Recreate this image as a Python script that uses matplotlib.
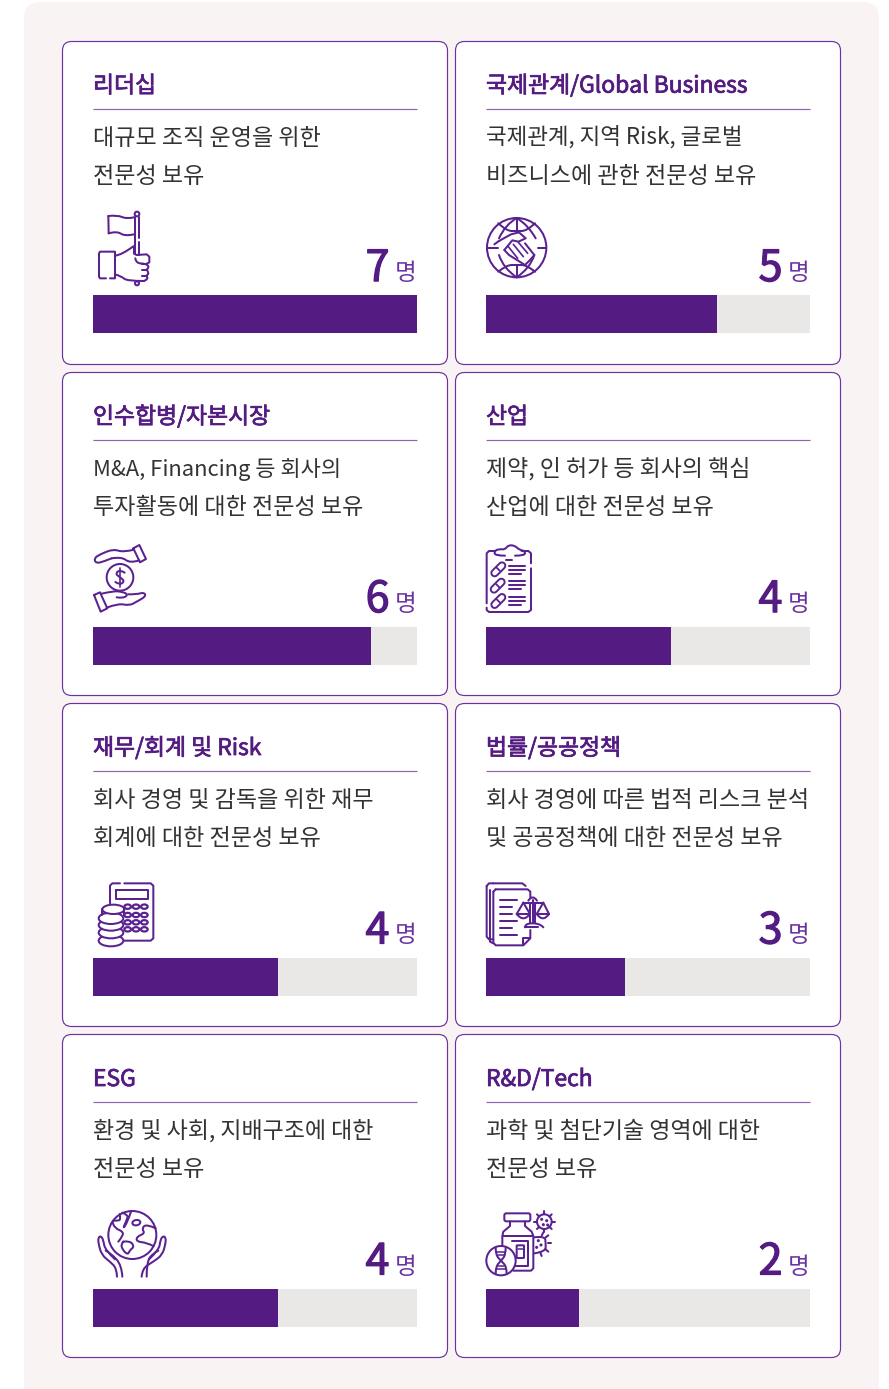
import matplotlib
matplotlib.use('Agg')
import matplotlib.pyplot as plt
import matplotlib.patheffects as pe
from matplotlib.patches import FancyBboxPatch, PathPatch, Circle, Ellipse
from matplotlib.path import Path

plt.rcParams['font.family'] = ['Noto Sans CJK KR', 'DejaVu Sans']

titles = ['리더십', '국제관계/Global Business', '인수합병/자본시장', '산업',
          '재무/회계 및 Risk', '법률/공공정책', 'ESG', 'R&D/Tech']
line1 = ['대규모 조직 운영을 위한', '국제관계, 지역 Risk, 글로벌', 'M&A, Financing 등 회사의',
         '제약, 인 허가 등 회사의 핵심', '회사 경영 및 감독을 위한 재무', '회사 경영에 따른 법적 리스크 분석',
         '환경 및 사회, 지배구조에 대한', '과학 및 첨단기술 영역에 대한']
line2 = ['전문성 보유', '비즈니스에 관한 전문성 보유', '투자활동에 대한 전문성 보유',
         '산업에 대한 전문성 보유', '회계에 대한 전문성 보유', '및 공공정책에 대한 전문성 보유',
         '전문성 보유', '전문성 보유']
counts = [7, 5, 6, 4, 4, 3, 4, 2]
max_count = 7

W, H = 889, 1389
PURPLE = '#541c82'
LINE = '#5a2190'
GREY = '#e9e8e7'
BG = '#f9f3f3'

fig = plt.figure(figsize=(W / 100, H / 100), dpi=100, facecolor='white')
ax = fig.add_axes([0, 0, 1, 1])
ax.set_xlim(0, W)
ax.set_ylim(H, 0)
ax.axis('off')

ax.add_patch(FancyBboxPatch((24, 2), 855, 1400, boxstyle='round,pad=0,rounding_size=16',
                            fc=BG, ec='none'))


# icon helpers, coordinates are in 3x crop units
class Pen:
    def __init__(self, x0, y0):
        self.x0, self.y0 = x0, y0

    def p(self, pt):
        return (self.x0 + pt[0] / 3, self.y0 + pt[1] / 3)

    def line(self, pts, closed=False, fc='none', lw=1.45, z=5, ec=LINE):
        pts = [self.p(q) for q in pts]
        if closed:
            pts = pts + [pts[0]]
        ax.add_patch(PathPatch(Path(pts), fc=fc, ec=ec, lw=lw, zorder=z,
                               capstyle='round', joinstyle='round'))

    def curve(self, pts, fc='none', lw=1.45, z=5):
        pts = [self.p(q) for q in pts]
        verts = [pts[0]]
        codes = [Path.MOVETO]
        for i in range(1, len(pts) - 1):
            mid = ((pts[i][0] + pts[i + 1][0]) / 2, (pts[i][1] + pts[i + 1][1]) / 2)
            if i == len(pts) - 2:
                mid = pts[-1]
            verts += [pts[i], mid]
            codes += [Path.CURVE3, Path.CURVE3]
        if len(pts) == 2:
            verts.append(pts[1])
            codes.append(Path.LINETO)
        ax.add_patch(PathPatch(Path(verts, codes), fc=fc, ec=LINE, lw=lw, zorder=z,
                               capstyle='round', joinstyle='round'))

    def circle(self, c, r, fc='none', lw=1.45, z=5):
        ax.add_patch(Circle(self.p(c), r / 3, fc=fc, ec=LINE, lw=lw, zorder=z))

    def ell(self, c, w, h, angle=0, fc='none', lw=1.45, z=5):
        ax.add_patch(Ellipse(self.p(c), w / 3, h / 3, angle=angle, fc=fc, ec=LINE, lw=lw, zorder=z))

    def rbox(self, x, y, w, h, r=6, fc='none', lw=1.45, z=5):
        a = self.p((x, y))
        ax.add_patch(FancyBboxPatch(a, w / 3, h / 3, boxstyle='round,pad=0,rounding_size=%f' % (r / 3),
                                    fc=fc, ec=LINE, lw=lw, zorder=z))


def icon_flag():
    g = Pen(80, 205)
    g.circle((171, 27), 7)
    g.line([(166, 35), (166, 148)])
    g.line([(177, 35), (177, 100)])
    g.line([(177, 112), (177, 150)])
    g.curve([(162, 37), (140, 42), (112, 30), (85, 33)])
    g.line([(85, 33), (86, 85)])
    g.curve([(86, 85), (110, 78), (135, 94), (162, 88)])
    g.line([(78, 220), (60, 220), (57, 215), (57, 145), (60, 140), (105, 140), (105, 220), (90, 220)])
    g.curve([(105, 152), (125, 150), (160, 124)])
    g.line([(162, 124), (162, 146), (170, 150), (200, 148), (208, 155), (208, 172), (200, 176)])
    g.curve([(166, 160), (168, 175), (200, 176), (208, 188), (200, 194)])
    g.curve([(200, 194), (208, 205), (198, 212), (205, 222), (192, 228)])
    g.curve([(105, 208), (125, 214), (140, 228), (192, 228)])
    g.line([(185, 176), (200, 176)])
    g.line([(185, 194), (200, 194)])
    g.line([(185, 212), (198, 212)])
    g.circle((171, 235), 6)


def icon_money():
    g = Pen(80, 535)
    g.circle((120, 127), 40)
    g.curve([(134, 113), (120, 104), (106, 116), (120, 127), (134, 138), (120, 150), (106, 141)])
    g.line([(120, 98), (120, 156)], lw=1.2)
    g.line([(160, 40), (178, 30), (198, 72), (180, 82)], closed=True)
    g.curve([(162, 44), (130, 52), (100, 42), (60, 58), (42, 70), (48, 85), (70, 80), (95, 70)])
    g.curve([(95, 70), (125, 65), (150, 85), (178, 76)])
    g.line([(42, 180), (60, 172), (82, 220), (62, 230)], closed=True)
    g.curve([(65, 176), (100, 168), (125, 170), (145, 178), (130, 190), (110, 187)])
    g.curve([(145, 178), (170, 178), (192, 172), (198, 184), (170, 200), (148, 212), (115, 205), (80, 218)])


def icon_globe():
    g = Pen(475, 205)
    g.circle((125, 128), 89)
    g.line([(125, 39), (125, 78)])
    g.line([(125, 184), (125, 217)])
    g.line([(36, 128), (68, 128)])
    g.line([(188, 128), (214, 128)])
    g.curve([(70, 55), (95, 78), (125, 78), (155, 78), (180, 55)])
    g.curve([(70, 200), (95, 180), (125, 180), (155, 180), (180, 200)])
    g.curve([(125, 39), (90, 60), (72, 100)])
    g.curve([(125, 39), (160, 60), (182, 100)])
    g.curve([(72, 150), (85, 190), (125, 217)])
    g.curve([(178, 150), (165, 190), (125, 217)])
    # hands
    g.line([(72, 108), (108, 88), (132, 82), (152, 100), (130, 110), (112, 106), (88, 135)])
    g.line([(88, 135), (102, 150), (150, 180), (165, 165), (178, 150), (150, 115)])
    g.line([(100, 125), (128, 160)], lw=1.2)
    g.line([(115, 118), (145, 155)], lw=1.2)
    g.line([(130, 112), (158, 145)], lw=1.2)
    g.line([(58, 118), (72, 108)])


def icon_clip():
    g = Pen(475, 535)
    g.line([(60, 48), (42, 48), (35, 55), (35, 205)])
    g.line([(35, 218), (35, 225), (42, 231), (160, 231), (168, 225), (168, 100)])
    g.line([(168, 85), (168, 55), (160, 48), (140, 48)])
    g.curve([(90, 62), (60, 62), (58, 48), (72, 42), (90, 44), (100, 30), (120, 32), (132, 44), (150, 48), (150, 62), (120, 62)])
    g.line([(92, 75), (112, 75)])
    for cy, cx in [(103, 70), (152, 68), (198, 70)]:
        # pill: thick purple stroke with a white core
        g.line([(cx - 11, cy + 11), (cx + 11, cy - 11)], lw=6.2)
        g.line([(cx - 11, cy + 11), (cx + 11, cy - 11)], lw=3.4, ec='white', z=6)
        g.line([(cx - 5, cy - 5), (cx + 5, cy + 5)], lw=1.3, z=7)
    for y0 in [93, 139, 185]:
        g.line([(103, y0), (150, y0)])
        g.line([(103, y0 + 12), (150, y0 + 12)])
        g.line([(103, y0 + 24), (138, y0 + 24)])


def icon_calc():
    g = Pen(85, 870)
    g.line([(105, 40), (82, 40), (75, 47), (75, 100)])
    g.line([(118, 40), (197, 40), (205, 47), (205, 205), (197, 212), (118, 212)])
    g.line([(92, 60), (190, 60), (190, 88), (92, 88)], closed=True)
    for y0 in [110, 135, 157, 178]:
        for x0 in [128, 153, 178]:
            g.ell((x0, y0), 20, 13, lw=1.6)
    for cy in [212, 188, 165, 145]:
        g.ell((78, cy), 74, 34, fc='white', z=6)
    g.ell((85, 118), 66, 28, fc='white', z=7)
    g.line([(52, 118), (52, 134)], z=7)
    g.line([(118, 118), (118, 134)], z=7)


def icon_docs():
    g = Pen(475, 870)
    g.line([(55, 40), (142, 40), (152, 48)])
    g.line([(35, 48), (42, 40), (55, 40)])
    g.line([(35, 48), (35, 200), (42, 208), (55, 208)])
    g.line([(45, 60), (45, 215), (55, 220)])
    g.line([(62, 58), (158, 58), (166, 65), (166, 82)])
    g.line([(55, 65), (62, 58)])
    g.line([(55, 65), (55, 218), (62, 226), (145, 226), (166, 205), (166, 180)])
    g.line([(145, 226), (145, 205), (166, 205)])
    for y0, x1 in [(90, 126), (110, 110), (131, 110), (152, 126), (173, 110), (194, 126)]:
        g.line([(75, y0), (x1, y0)])
    # scales
    g.line([(173, 90), (173, 158)])
    g.line([(165, 158), (165, 100)])
    g.line([(181, 158), (181, 100)])
    g.curve([(160, 92), (173, 72), (186, 92)])
    g.line([(145, 98), (205, 98)])
    g.line([(145, 98), (125, 132)])
    g.line([(145, 98), (165, 132)])
    g.curve([(125, 132), (145, 158), (165, 132)])
    g.line([(125, 132), (165, 132)])
    g.line([(205, 98), (185, 132)])
    g.line([(205, 98), (222, 132)])
    g.curve([(185, 132), (204, 158), (222, 132)])
    g.line([(185, 132), (222, 132)])
    g.curve([(150, 172), (150, 160), (195, 160), (205, 172)])
    g.line([(150, 172), (190, 172)])


def icon_earth():
    g = Pen(85, 1200)
    g.circle((142, 105), 72)
    g.curve([(104, 42), (108, 60), (95, 62), (80, 62), (90, 85), (115, 95), (112, 110), (100, 125)])
    g.curve([(112, 38), (130, 45), (125, 60), (112, 90), (128, 65), (138, 35)])
    g.ell((154, 68), 24, 16, angle=-10)
    g.curve([(212, 85), (185, 72), (170, 85), (180, 100), (155, 110), (155, 125), (185, 128), (205, 138)])
    g.curve([(115, 125), (135, 122), (148, 140), (135, 150), (128, 165), (112, 148), (108, 132), (115, 125)])
    # left hand
    g.curve([(96, 230), (95, 205), (75, 185), (50, 165), (40, 130), (40, 112), (48, 108), (55, 120), (60, 150), (90, 178)])
    g.curve([(62, 152), (78, 160), (110, 195), (112, 230)])
    # right hand
    g.curve([(170, 230), (172, 205), (205, 185), (232, 165), (242, 130), (242, 112), (234, 108), (226, 120), (222, 150), (192, 178)])
    g.curve([(220, 152), (204, 160), (185, 185), (185, 230)])


def icon_vial():
    g = Pen(475, 1200)
    g.rbox(88, 40, 78, 24, r=6)
    g.line([(105, 64), (105, 78), (85, 95), (82, 108), (82, 138)])
    g.line([(150, 64), (150, 78), (170, 95), (175, 108), (175, 205), (168, 212), (115, 212)])
    g.line([(85, 108), (175, 108)])
    g.line([(110, 122), (158, 122), (158, 198), (118, 198)])
    g.rbox(125, 136, 22, 38, r=2)
    g.line([(128, 148), (144, 148)], lw=1.1)
    g.circle((78, 182), 44, fc='white', z=6)
    g.curve([(62, 142), (62, 165), (78, 182), (95, 200), (95, 222)], z=7)
    g.curve([(92, 142), (92, 165), (78, 182), (62, 200), (62, 222)], z=7)
    for y0, a, b in [(155, 64, 90), (165, 68, 88), (198, 68, 88), (208, 64, 92)]:
        g.line([(a, y0), (b, y0)], lw=1.1, z=7)
    g.circle((208, 65), 22)
    for q in [(208, 33, 208, 43), (208, 87, 208, 97), (176, 65, 186, 65), (230, 65, 240, 65),
              (186, 43, 193, 50), (230, 43, 223, 50), (186, 87, 193, 80), (230, 87, 223, 80)]:
        g.line([(q[0], q[1]), (q[2], q[3])])
    for c in [(200, 58), (215, 62), (205, 74), (218, 75)]:
        g.circle(c, 2.5, lw=1)
    g.curve([(178, 112), (210, 108), (212, 130), (212, 155), (178, 160)])
    for q in [(205, 97, 200, 107), (218, 130, 228, 130), (212, 112, 220, 106), (212, 148, 220, 155), (196, 158, 200, 168)]:
        g.line([(q[0], q[1]), (q[2], q[3])])
    for c in [(190, 122), (198, 135), (185, 142)]:
        g.circle(c, 2.5, lw=1)


icons = [icon_flag, icon_globe, icon_money, icon_clip, icon_calc, icon_docs, icon_earth, icon_vial]

card_x = [62, 455]
card_y = [41, 372, 703, 1034]
text_y = [41.6, 372.6, 704, 1035]
bar_y = [295, 627, 958, 1289]
line1_size = [16.6, 16.2, 15.85, 16.5, 16.6, 16.6, 16.55, 16.55]
# no medium weight installed, so thicken regular a little
medium = [pe.withStroke(linewidth=0.55, foreground=PURPLE)]
medium_num = [pe.withStroke(linewidth=0.9, foreground=PURPLE)]

for i in range(len(titles)):
    x = card_x[i % 2]
    y = card_y[i // 2]
    ty = text_y[i // 2]
    ax.add_patch(FancyBboxPatch((x + 0.5, y + 0.5), 385, 323, boxstyle='round,pad=0,rounding_size=9',
                                fc='white', ec='#6b33a1', lw=0.85))
    ax.text(x + 31, ty + 51, titles[i], fontsize=16.45, color=PURPLE, va='baseline', path_effects=medium)
    ax.plot([x + 31, x + 355], [y + 68, y + 68], color='#8f62b5', lw=0.85, solid_capstyle='butt')
    ax.text(x + 31, ty + 103, line1[i], fontsize=line1_size[i], color='#333333', va='baseline')
    ax.text(x + 31, ty + 141, line2[i], fontsize=16.6, color='#333333', va='baseline')
    ax.text(x + 327.5, ty + 239.5, str(counts[i]), fontsize=31, color=PURPLE,
            va='baseline', ha='right', path_effects=medium_num)
    ax.text(x + 355, ty + 238.5, '명', fontsize=17, color='#6b33a1', va='baseline', ha='right')
    icons[i]()

    yb = bar_y[i // 2]
    bar_ax = fig.add_axes([(x + 31) / W, 1 - (yb + 38) / H, 324 / W, 38 / H])
    bar_ax.barh([0], [max_count], height=1, color=GREY)
    bar_ax.barh([0], [counts[i]], height=1, color=PURPLE)
    bar_ax.set_xlim(0, max_count)
    bar_ax.set_ylim(-0.5, 0.5)
    bar_ax.axis('off')

fig.savefig('out.png', dpi=100)
